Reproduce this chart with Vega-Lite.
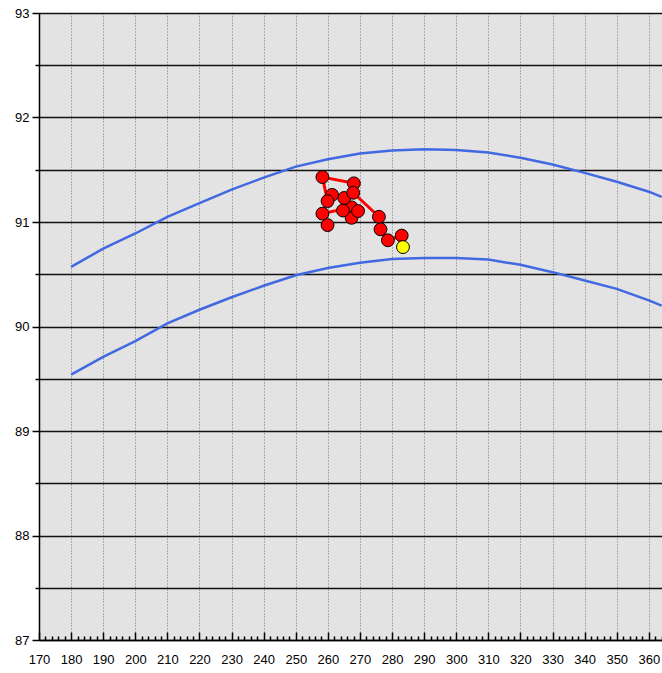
{
  "$schema": "https://vega.github.io/schema/vega-lite/v6.json",
  "width": 623,
  "height": 627,
  "autosize": "none",
  "padding": {"left": 39, "top": 13, "right": 0, "bottom": 33},
  "background": "#ffffff",
  "config": {
    "view": {"fill": "#e3e3e3", "stroke": null},
    "axis": {"labelFont": "Liberation Sans", "labelFontSize": 13, "labelColor": "#000000", "domainColor": "#000000", "domainWidth": 1.5, "tickColor": "#000000", "tickWidth": 1.5, "title": null}
  },
  "datasets": {
    "curves": [
      {"series": "upper", "x": 180, "y": 90.57},
      {"series": "upper", "x": 190, "y": 90.745},
      {"series": "upper", "x": 200, "y": 90.89},
      {"series": "upper", "x": 210, "y": 91.05},
      {"series": "upper", "x": 220, "y": 91.18},
      {"series": "upper", "x": 230, "y": 91.31},
      {"series": "upper", "x": 240, "y": 91.425},
      {"series": "upper", "x": 250, "y": 91.53},
      {"series": "upper", "x": 260, "y": 91.6},
      {"series": "upper", "x": 270, "y": 91.655},
      {"series": "upper", "x": 280, "y": 91.685},
      {"series": "upper", "x": 290, "y": 91.695},
      {"series": "upper", "x": 300, "y": 91.69},
      {"series": "upper", "x": 310, "y": 91.665},
      {"series": "upper", "x": 320, "y": 91.615},
      {"series": "upper", "x": 330, "y": 91.55},
      {"series": "upper", "x": 340, "y": 91.47},
      {"series": "upper", "x": 350, "y": 91.385},
      {"series": "upper", "x": 360, "y": 91.29},
      {"series": "upper", "x": 364, "y": 91.24},
      {"series": "lower", "x": 180, "y": 89.54},
      {"series": "lower", "x": 190, "y": 89.71},
      {"series": "lower", "x": 200, "y": 89.86},
      {"series": "lower", "x": 210, "y": 90.03},
      {"series": "lower", "x": 220, "y": 90.16},
      {"series": "lower", "x": 230, "y": 90.28},
      {"series": "lower", "x": 240, "y": 90.39},
      {"series": "lower", "x": 250, "y": 90.49},
      {"series": "lower", "x": 260, "y": 90.56},
      {"series": "lower", "x": 270, "y": 90.61},
      {"series": "lower", "x": 280, "y": 90.645},
      {"series": "lower", "x": 290, "y": 90.655},
      {"series": "lower", "x": 300, "y": 90.655},
      {"series": "lower", "x": 310, "y": 90.64},
      {"series": "lower", "x": 320, "y": 90.59},
      {"series": "lower", "x": 330, "y": 90.52},
      {"series": "lower", "x": 340, "y": 90.44},
      {"series": "lower", "x": 350, "y": 90.36},
      {"series": "lower", "x": 360, "y": 90.25},
      {"series": "lower", "x": 364, "y": 90.2}
    ],
    "path": [
      {"seq": 1, "x": 259.9, "y": 90.97, "kind": "past"},
      {"seq": 2, "x": 258.3, "y": 91.08, "kind": "past"},
      {"seq": 3, "x": 267.4, "y": 91.14, "kind": "past"},
      {"seq": 4, "x": 267.4, "y": 91.04, "kind": "past"},
      {"seq": 5, "x": 269.4, "y": 91.105, "kind": "past"},
      {"seq": 6, "x": 264.7, "y": 91.11, "kind": "past"},
      {"seq": 7, "x": 265.1, "y": 91.23, "kind": "past"},
      {"seq": 8, "x": 261.3, "y": 91.26, "kind": "past"},
      {"seq": 9, "x": 259.9, "y": 91.2, "kind": "past"},
      {"seq": 10, "x": 258.3, "y": 91.43, "kind": "past"},
      {"seq": 11, "x": 268.1, "y": 91.37, "kind": "past"},
      {"seq": 12, "x": 267.9, "y": 91.28, "kind": "past"},
      {"seq": 13, "x": 275.9, "y": 91.05, "kind": "past"},
      {"seq": 14, "x": 276.4, "y": 90.93, "kind": "past"},
      {"seq": 15, "x": 278.7, "y": 90.825, "kind": "past"},
      {"seq": 16, "x": 283.0, "y": 90.87, "kind": "past"},
      {"seq": 17, "x": 283.4, "y": 90.76, "kind": "current"}
    ]
  },
  "encoding": {
    "x": {
      "field": "x", "type": "quantitative",
      "scale": {"domain": [170, 364.1], "nice": false, "zero": false},
      "axis": {
        "values": [170,172,174,176,178,180,182,184,186,188,190,192,194,196,198,200,202,204,206,208,210,212,214,216,218,220,222,224,226,228,230,232,234,236,238,240,242,244,246,248,250,252,254,256,258,260,262,264,266,268,270,272,274,276,278,280,282,284,286,288,290,292,294,296,298,300,302,304,306,308,310,312,314,316,318,320,322,324,326,328,330,332,334,336,338,340,342,344,346,348,350,352,354,356,358,360,362,364],
        "labelExpr": "datum.value % 10 === 0 ? datum.label : ''",
        "labelPadding": 21,
        "labelFlush": false,
        "labelOverlap": false,
        "tickSize": {"condition": {"test": "datum.value % 10 === 0", "value": -8}, "value": -4},
        "grid": true,
        "gridColor": "#707070",
        "gridDash": [1, 2],
        "gridWidth": 1,
        "gridOpacity": {"condition": {"test": "datum.value % 10 === 0", "value": 1}, "value": 0}
      }
    },
    "y": {
      "field": "y", "type": "quantitative",
      "scale": {"domain": [87, 93], "nice": false, "zero": false},
      "axis": {
        "values": [87, 87.5, 88, 88.5, 89, 89.5, 90, 90.5, 91, 91.5, 92, 92.5, 93],
        "labelExpr": "datum.value % 1 === 0 ? format(datum.value, 'd') : ''",
        "labelPadding": 3,
        "labelFlush": false,
        "labelOverlap": false,
        "tickSize": {"condition": {"test": "datum.value % 1 === 0", "value": 7}, "value": 4},
        "grid": true,
        "gridColor": "#111111",
        "gridWidth": 1.5
      }
    }
  },
  "layer": [
    {
      "data": {"name": "curves"},
      "mark": {"type": "line", "color": "#4169e1", "strokeWidth": 2.5, "clip": true},
      "encoding": {"detail": {"field": "series", "type": "nominal"}}
    },
    {
      "data": {"name": "path"},
      "mark": {"type": "line", "color": "#ff0000", "strokeWidth": 3},
      "encoding": {"order": {"field": "seq", "type": "quantitative"}}
    },
    {
      "data": {"name": "path"},
      "mark": {"type": "point", "filled": true, "size": 165, "stroke": "#000000", "strokeWidth": 1, "opacity": 1},
      "encoding": {
        "fill": {"field": "kind", "type": "nominal", "scale": {"domain": ["past", "current"], "range": ["#ff0000", "#ffff00"]}, "legend": null},
        "order": {"field": "seq", "type": "quantitative"}
      }
    }
  ]
}
